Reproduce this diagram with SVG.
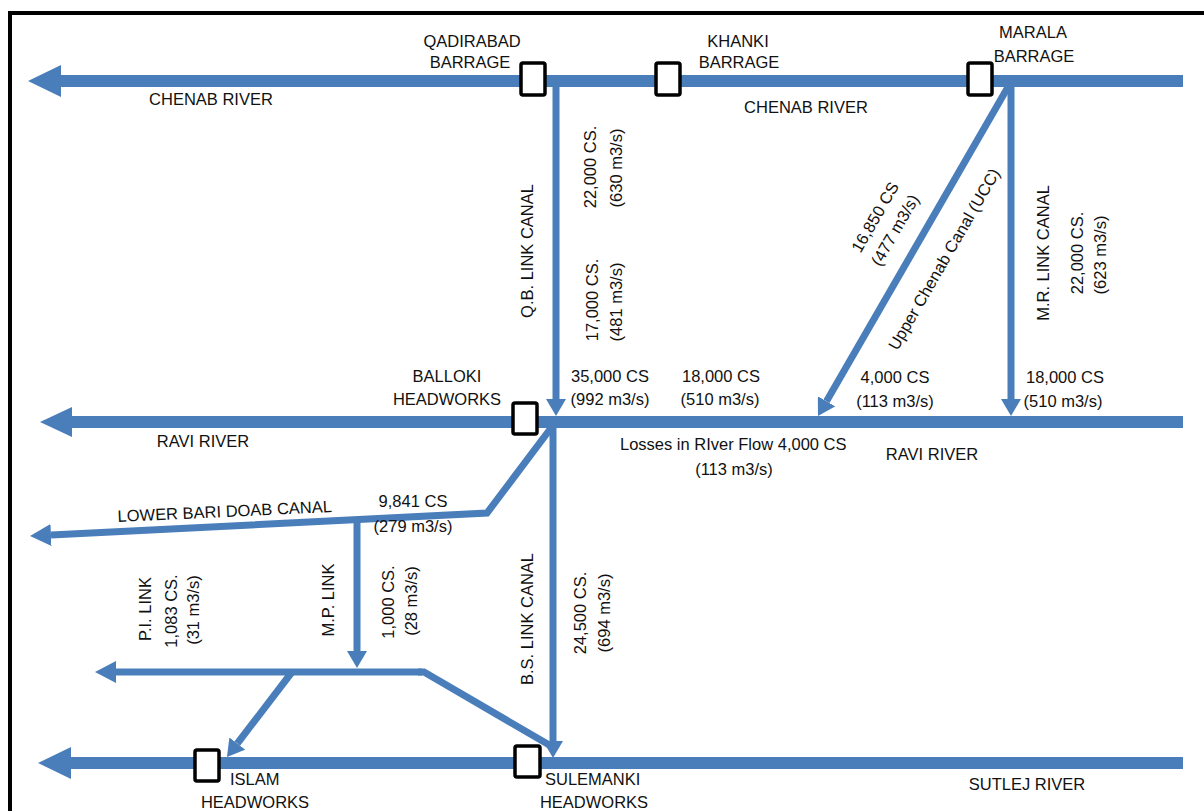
<svg xmlns="http://www.w3.org/2000/svg" width="1204" height="811" viewBox="0 0 1204 811">
  <style>
    .t { font-family: "Liberation Sans", Arial, sans-serif; font-size: 16.5px; fill: #111; }
    .c { text-anchor: middle; }
    .river { stroke: #4a7ebb; stroke-width: 12; fill: none; }
    .canal { stroke: #4a7ebb; stroke-width: 7; fill: none; stroke-linejoin: miter; }
    .head { fill: #4a7ebb; }
    .box { fill: #fff; stroke: #000; stroke-width: 3.5; }
  </style>
  <defs>
    <marker id="ah" markerUnits="userSpaceOnUse" markerWidth="17" markerHeight="20" viewBox="0 0 17 20" refX="0" refY="10" orient="auto">
      <path d="M0,0 L17,10 L0,20 z" fill="#4a7ebb"/>
    </marker>
    <marker id="ahM" markerUnits="userSpaceOnUse" markerWidth="21" markerHeight="22" viewBox="0 0 21 22" refX="0" refY="11" orient="auto">
      <path d="M0,0 L21,11 L0,22 z" fill="#4a7ebb"/>
    </marker>
  </defs>

  <rect x="0" y="0" width="1204" height="811" fill="#fff"/>
  <!-- outer frame -->
  <rect x="10" y="13" width="1215" height="830" fill="none" stroke="#000" stroke-width="4"/>

  <g id="connectors">
    <!-- Chenab river -->
    <line class="river" x1="58" y1="81" x2="1183" y2="81"/>
    <polygon class="head" points="28,81 61,65 61,97"/>
    <!-- Ravi river -->
    <line class="river" x1="70" y1="422" x2="1183" y2="422"/>
    <polygon class="head" points="40,422 72,407 72,437"/>
    <!-- Sutlej river -->
    <line class="river" x1="68" y1="763" x2="1183" y2="763"/>
    <polygon class="head" points="38,763 71,747 71,779"/>

    <!-- Q.B. link canal -->
    <line class="canal" x1="556" y1="87" x2="556" y2="399" marker-end="url(#ah)"/>
    <!-- M.R. link canal -->
    <line class="canal" x1="1011" y1="87" x2="1011" y2="399" marker-end="url(#ah)"/>
    <!-- Upper Chenab Canal -->
    <line class="canal" x1="1008" y1="87" x2="826.5" y2="401.3" marker-end="url(#ah)"/>
    <!-- Lower Bari Doab Canal -->
    <polyline class="canal" points="554,424 487,513 51,535" marker-end="url(#ahM)"/>
    <!-- B.S. link canal -->
    <line class="canal" x1="553" y1="427" x2="553" y2="741" marker-end="url(#ah)"/>
    <!-- M.P. link -->
    <line class="canal" x1="357" y1="517" x2="357" y2="651" marker-end="url(#ah)"/>
    <!-- lower link -->
    <line class="canal" x1="422" y1="672" x2="116" y2="672" marker-end="url(#ahM)"/>
    <polyline class="canal" points="418,672 424,672 551,746"/>
    <!-- P.I. link -->
    <line class="canal" x1="292" y1="672" x2="237.3" y2="743.5" marker-end="url(#ah)"/>
  </g>

  <g id="qadirabad">
    <rect class="box" x="521" y="63" width="24" height="32" rx="2"/>
    <text class="t c" x="472" y="47">QADIRABAD</text>
    <text class="t c" x="470" y="68">BARRAGE</text>
  </g>
  <g id="khanki">
    <rect class="box" x="656" y="63" width="24" height="32" rx="2"/>
    <text class="t c" x="738" y="47">KHANKI</text>
    <text class="t c" x="739" y="68">BARRAGE</text>
  </g>
  <g id="marala">
    <rect class="box" x="968" y="63" width="24" height="32" rx="2"/>
    <text class="t c" x="1033" y="38">MARALA</text>
    <text class="t c" x="1034" y="62">BARRAGE</text>
  </g>
  <g id="balloki">
    <rect class="box" x="513" y="403" width="24" height="31" rx="2"/>
    <text class="t c" x="447" y="382">BALLOKI</text>
    <text class="t c" x="447" y="405">HEADWORKS</text>
  </g>
  <g id="islam">
    <rect class="box" x="195" y="750" width="24" height="31" rx="2"/>
    <text class="t" x="230" y="785">ISLAM</text>
    <text class="t c" x="255" y="808">HEADWORKS</text>
  </g>
  <g id="sulemanki">
    <rect class="box" x="515" y="746" width="25" height="31" rx="2"/>
    <text class="t" x="545" y="785">SULEMANKI</text>
    <text class="t c" x="594" y="808">HEADWORKS</text>
  </g>

  <g id="labels">
    <text class="t c" x="211" y="105">CHENAB RIVER</text>
    <text class="t c" x="806" y="113">CHENAB RIVER</text>
    <text class="t c" x="203" y="447">RAVI RIVER</text>
    <text class="t c" x="932" y="460">RAVI RIVER</text>
    <text class="t c" x="1027" y="790">SUTLEJ RIVER</text>

    <!-- Q.B. link -->
    <text class="t c" transform="translate(533,251) rotate(-90)">Q.B. LINK CANAL</text>
    <text class="t c" transform="translate(596,167) rotate(-90)">22,000 CS.</text>
    <text class="t c" transform="translate(622,168) rotate(-90)">(630 m3/s)</text>
    <text class="t c" transform="translate(598,300) rotate(-90)">17,000 CS.</text>
    <text class="t c" transform="translate(622,302) rotate(-90)">(481 m3/s)</text>

    <!-- UCC -->
    <text class="t c" transform="translate(880,220) rotate(-60)">16,850 CS</text>
    <text class="t c" transform="translate(900,233) rotate(-60)">(477 m3/s)</text>
    <text class="t c" transform="translate(949,262) rotate(-60)">Upper Chenab Canal (UCC)</text>

    <!-- M.R. link -->
    <text class="t c" transform="translate(1049,253) rotate(-90)">M.R. LINK CANAL</text>
    <text class="t c" transform="translate(1083,253) rotate(-90)">22,000 CS.</text>
    <text class="t c" transform="translate(1106,255) rotate(-90)">(623 m3/s)</text>

    <!-- flows at Ravi -->
    <text class="t c" x="610" y="382">35,000 CS</text>
    <text class="t c" x="610" y="405">(992 m3/s)</text>
    <text class="t c" x="721" y="382">18,000 CS</text>
    <text class="t c" x="720" y="405">(510 m3/s)</text>
    <text class="t c" x="895" y="383">4,000 CS</text>
    <text class="t c" x="895" y="407">(113 m3/s)</text>
    <text class="t c" x="1065" y="383">18,000 CS</text>
    <text class="t c" x="1063" y="407">(510 m3/s)</text>
    <text class="t" x="620" y="450">Losses in RIver Flow 4,000 CS</text>
    <text class="t c" x="734" y="475">(113 m3/s)</text>

    <!-- LBDC -->
    <text class="t c" transform="translate(225,517) rotate(-2.7)">LOWER BARI DOAB CANAL</text>
    <text class="t c" x="413" y="507">9,841 CS</text>
    <text class="t c" x="413" y="532">(279 m3/s)</text>

    <!-- P.I. and M.P. links -->
    <text class="t c" transform="translate(151,609) rotate(-90)">P.I. LINK</text>
    <text class="t c" transform="translate(177,611) rotate(-90)">1,083 CS.</text>
    <text class="t c" transform="translate(199,610) rotate(-90)">(31 m3/s)</text>
    <text class="t c" transform="translate(334,600) rotate(-90)">M.P. LINK</text>
    <text class="t c" transform="translate(394,602) rotate(-90)">1,000 CS.</text>
    <text class="t c" transform="translate(417,601) rotate(-90)">(28 m3/s)</text>

    <!-- B.S. link -->
    <text class="t c" transform="translate(533,619) rotate(-90)">B.S. LINK CANAL</text>
    <text class="t c" transform="translate(586,613) rotate(-90)">24,500 CS.</text>
    <text class="t c" transform="translate(610,613) rotate(-90)">(694 m3/s)</text>
  </g>
</svg>
